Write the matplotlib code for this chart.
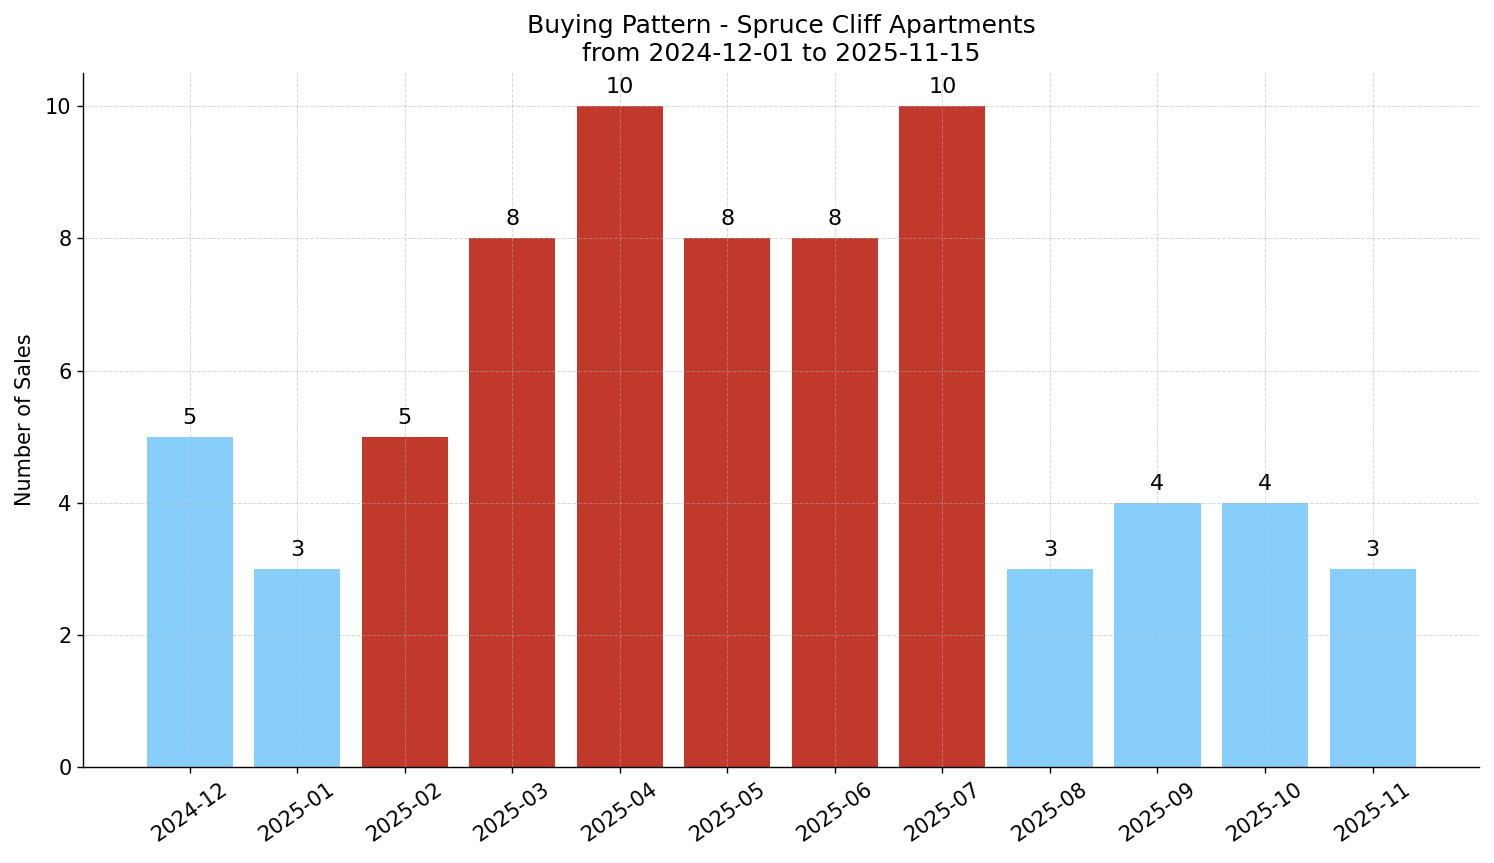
import matplotlib
matplotlib.use("Agg")
import matplotlib.pyplot as plt

months = ["2024-12", "2025-01", "2025-02", "2025-03", "2025-04", "2025-05",
          "2025-06", "2025-07", "2025-08", "2025-09", "2025-10", "2025-11"]
sales = [5, 3, 5, 8, 10, 8, 8, 10, 3, 4, 4, 3]
high = [False, False, True, True, True, True, True, True, False, False, False, False]

colors = ["#C0392B" if h else "#87CEFA" for h in high]

fig, ax = plt.subplots(figsize=(14.94, 8.63), dpi=100)
x = list(range(len(months)))
bars = ax.bar(x, sales, color=colors, width=0.8)
for b, v in zip(bars, sales):
    ax.annotate(str(v), (b.get_x() + b.get_width() / 2, v), xytext=(0, 6.5),
                textcoords="offset points", ha="center", va="bottom", fontsize=16)
ax.set_xticks(x)
ax.set_xticklabels(months, rotation=35, fontsize=15)
ax.tick_params(axis="y", labelsize=15)
ax.tick_params(axis="both", length=4.2, width=1.0, pad=4.2)
ax.set_ylabel("Number of Sales", fontsize=15, labelpad=7)
ax.set_title("Buying Pattern - Spruce Cliff Apartments\nfrom 2024-12-01 to 2025-11-15", fontsize=18, pad=8.5)
ax.grid(True, linestyle="--", color="#b0b0b0", alpha=0.5, linewidth=0.7)
for s in ("left", "bottom"):
    ax.spines[s].set_linewidth(1.0)
ax.spines["top"].set_visible(False)
ax.spines["right"].set_visible(False)
fig.subplots_adjust(left=0.0556, right=0.99, top=0.9154, bottom=0.111)
fig.savefig("out.png", dpi=100)
